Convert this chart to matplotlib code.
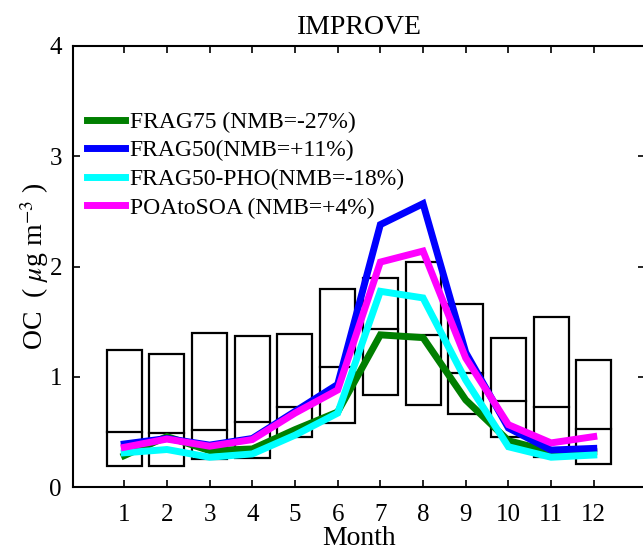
import matplotlib
matplotlib.use("Agg")
import matplotlib.pyplot as plt
from matplotlib.patches import Rectangle

plt.rcParams['font.family'] = ['Liberation Serif', 'DejaVu Serif']
plt.rcParams['mathtext.fontset'] = 'stix'

months = [1, 2, 3, 4, 5, 6, 7, 8, 9, 10, 11, 12]
box_low = [0.19, 0.19, 0.25, 0.26, 0.45, 0.58, 0.83, 0.74, 0.66, 0.45, 0.27, 0.21]
box_med = [0.50, 0.49, 0.52, 0.59, 0.73, 1.085, 1.43, 1.375, 1.03, 0.78, 0.73, 0.53]
box_high = [1.245, 1.21, 1.40, 1.37, 1.39, 1.80, 1.90, 2.04, 1.66, 1.35, 1.54, 1.15]

frag75 = [0.285, 0.457, 0.33, 0.345, 0.52, 0.68, 1.38, 1.355, 0.79, 0.42, 0.32, 0.32]
frag50 = [0.39, 0.44, 0.38, 0.44, 0.685, 0.93, 2.38, 2.57, 1.22, 0.535, 0.335, 0.35]
frag50_pho = [0.31, 0.34, 0.27, 0.30, 0.47, 0.67, 1.775, 1.715, 0.97, 0.365, 0.27, 0.29]
poatosoa = [0.36, 0.435, 0.37, 0.43, 0.67, 0.88, 2.04, 2.14, 1.17, 0.565, 0.40, 0.457]

series = [
    (frag75, '#007f00', 'FRAG75 (NMB=-27%)'),
    (frag50, '#0000ff', 'FRAG50(NMB=+11%)'),
    (frag50_pho, '#00ffff', 'FRAG50-PHO(NMB=-18%)'),
    (poatosoa, '#ff00ff', 'POAtoSOA (NMB=+4%)'),
]

fig = plt.figure(figsize=(6.43, 5.53), dpi=100)
ax = fig.add_axes([73/643, 66/553, 572/643, 441/553])

bw = 0.82
for m, lo, md, hi in zip(months, box_low, box_med, box_high):
    ax.add_patch(Rectangle((m - bw/2, lo), bw, hi - lo, fill=False,
                           edgecolor='black', linewidth=1.6, zorder=2))
    ax.plot([m - bw/2, m + bw/2], [md, md], color='black', linewidth=1.6, zorder=2)

for vals, c, lab in series:
    ax.plot(months, vals, color=c, linewidth=5.0, label=lab, zorder=3,
            solid_joinstyle='miter')

ax.set_xlim(-0.2, 13.2)
ax.set_ylim(0, 4)
ax.set_xticks(months)
ax.set_yticks([0, 1, 2, 3, 4])
ax.tick_params(direction='in', top=True, right=True, length=5, width=1.2,
               labelsize=18, pad=8)
ax.tick_params(axis='x', pad=12)
for s in ax.spines.values():
    s.set_linewidth(1.5)

ax.set_title('IMPROVE', fontsize=20, pad=9)
ax.set_xlabel('Month', fontsize=20, labelpad=0)
ax.set_ylabel(r'OC  ( $\mu$g m$^{-3}$ )', fontsize=20, labelpad=-1)

leg = ax.legend(loc='center left', bbox_to_anchor=(0.0245, 0.730), frameon=False,
                fontsize=17, handlelength=1.6, handletextpad=0.2,
                labelspacing=0.3, borderpad=0, borderaxespad=0)

fig.savefig('out.png', dpi=100)
